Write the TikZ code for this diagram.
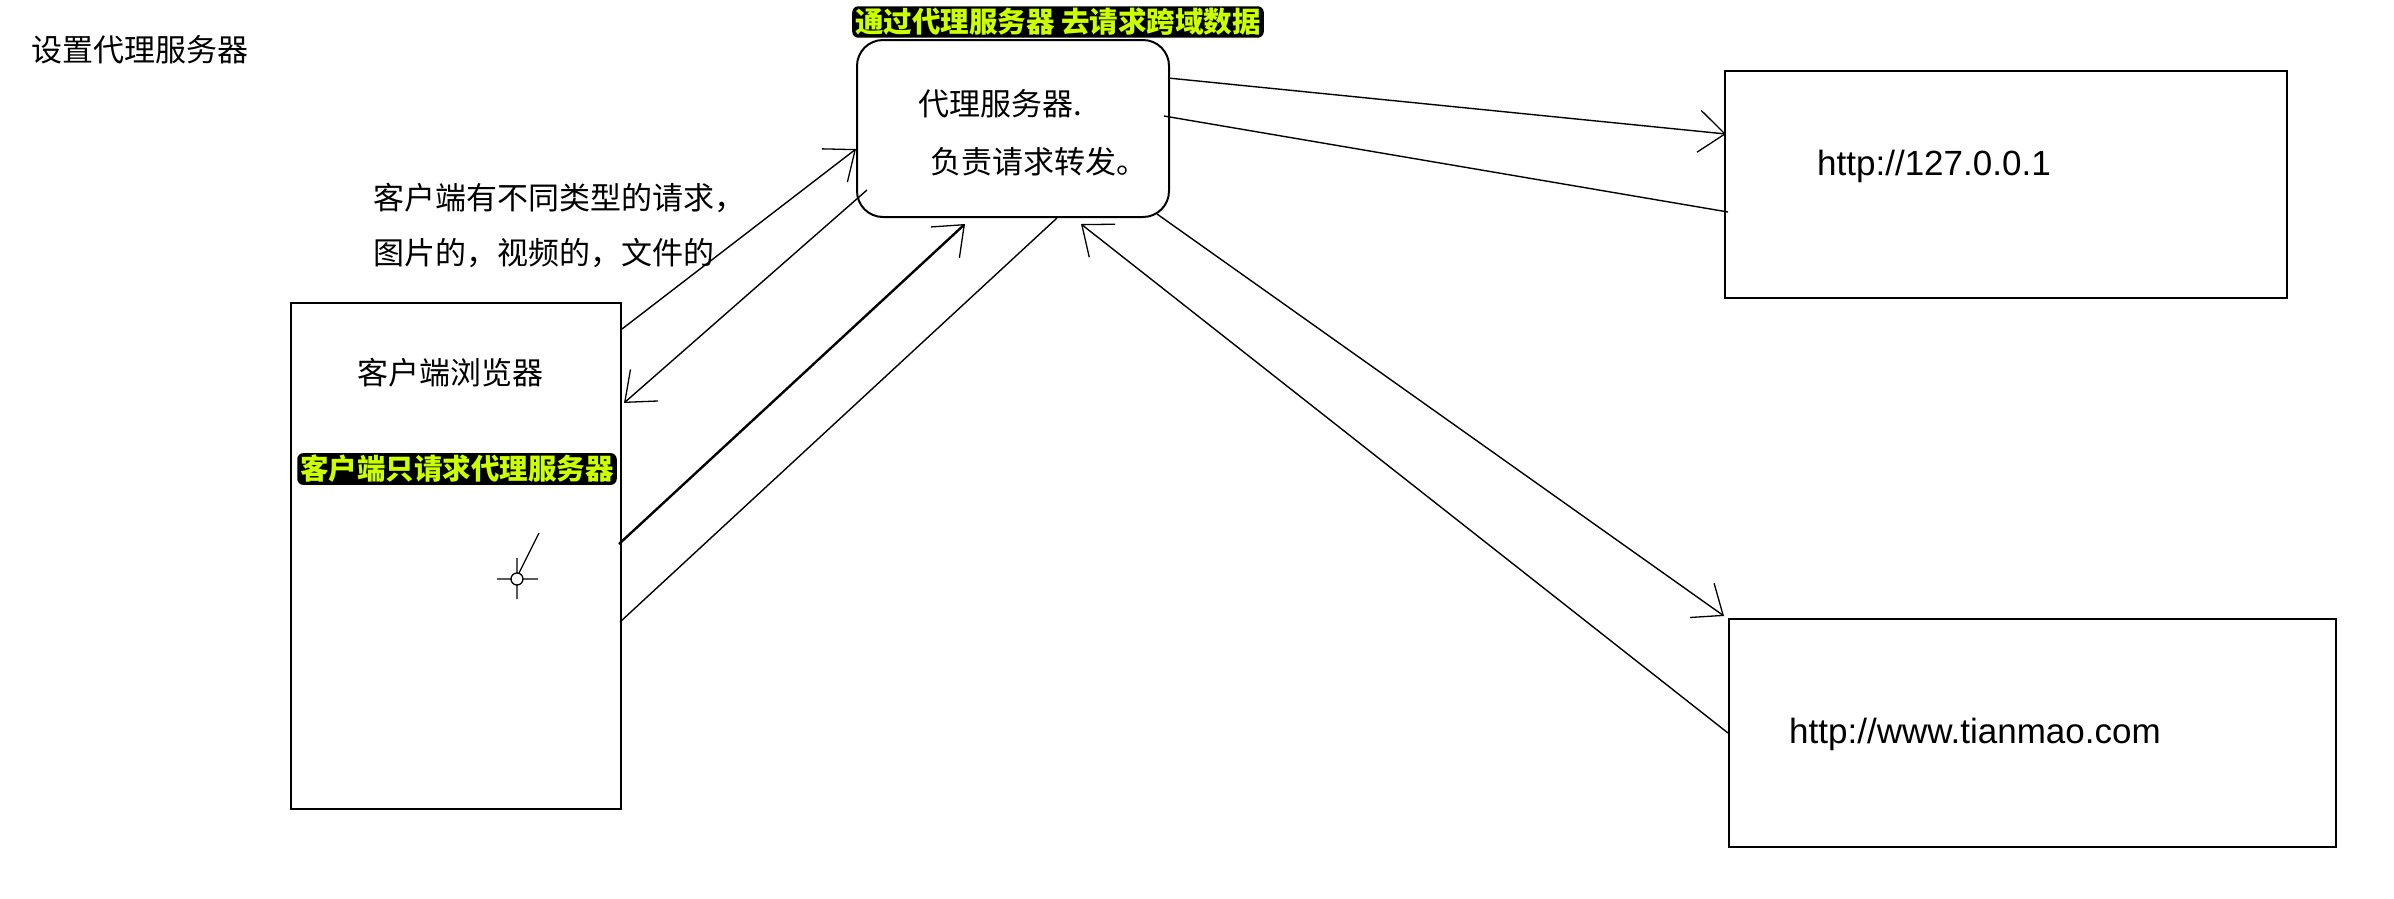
\documentclass[tikz,border=0pt]{standalone}
\usepackage{fontspec}
\setmainfont{Noto Sans CJK SC}
\newfontfamily\urlfont{Liberation Sans}
\usetikzlibrary{arrows.meta}
\definecolor{hilite}{RGB}{204,255,0}

\tikzset{
  box/.style={draw, line width=2pt, inner sep=0pt},
  note/.style={font=\fontsize{31}{36}\selectfont, inner sep=0pt},
  url/.style={font=\urlfont\fontsize{35}{40}\selectfont, inner sep=0pt, anchor=west},
  glow/.style={fill=black, text=hilite, rounded corners=6pt,
    font=\fontsize{28.5}{32}\selectfont\bfseries, inner xsep=3pt, inner ysep=2pt},
  req/.style={draw, line width=1.4pt,
    -{Straight Barb[length=26pt,width=42pt,line width=1.3pt]}},
  wire/.style={draw, line width=1.4pt},
}

\begin{document}
\begin{tikzpicture}[x=1pt, y=-1pt, auto]

  \path [fill=white, use as bounding box] (0,0) rectangle (2394,898);

  \node [note] (title) at (140,50) {设置代理服务器};

  % boxes
  \node [box, minimum width=330pt, minimum height=506pt] (client) at (456,556) {};
  \node [box, rounded corners=26pt, minimum width=312pt, minimum height=177pt] (proxy) at (1013,128.5) {};
  \node [box, minimum width=562pt, minimum height=227pt] (local) at (2006,184.5) {};
  \node [box, minimum width=607pt, minimum height=228pt] (tmall) at (2032.5,733) {};

  \node [glow] (proxyTip) at (1058,22) {通过代理服务器 去请求跨域数据};
  \node [note, anchor=west] (proxyName) at (918,104) {代理服务器.};
  \node [note, anchor=west] (proxyJob) at (930,162) {负责请求转发。};

  \node [note, anchor=west] (reqTypes) at (373,198) {客户端有不同类型的请求，};
  \node [note, anchor=west] (reqKinds) at (373,253) {图片的，视频的，文件的};
  \node [note] (browser) at (450,373) {客户端浏览器};
  \node [glow] (clientTip) at (457,469) {客户端只请求代理服务器};

  \node [url] (localUrl) at (1817,166) {http://127.0.0.1};
  \node [url] (tmallUrl) at (1789,734) {http://www.tianmao.com};

  \path
    ([yshift=-27pt]client.north east) edge [req] ([yshift=69pt]proxy.south west)
    ([xshift=11pt,yshift=28pt]proxy.south west) edge [req] ([xshift=2pt,yshift=-101pt]client.north east)
    ([xshift=-3pt,yshift=-242pt]client.north east) edge [req, line width=2.4pt] ([xshift=109pt,yshift=-6pt]proxy.south west)
    ([xshift=-2pt,yshift=-320pt]client.north east) edge [wire] ([xshift=201pt]proxy.south west)
    ([xshift=-2pt,yshift=-39pt]proxy.north east) edge [req] ([xshift=2pt,yshift=-64pt]local.north west)
    ([xshift=-6pt,yshift=-77pt]proxy.north east) edge [wire] ([xshift=4pt,yshift=-142pt]local.north west)
    ([xshift=-13pt,yshift=4pt]proxy.south east) edge [req] ([xshift=-4pt,yshift=2pt]tmall.north west)
    ([yshift=-115pt]tmall.north west) edge [req] ([xshift=225pt,yshift=-6pt]proxy.south west)
  ;

  % mouse pointer
  \draw [line width=1.3pt] (517,579) circle [radius=6pt];
  \draw [line width=1.3pt] (497,579) -- (511,579) (523,579) -- (538,579)
    (517,558) -- (517,573) (517,585) -- (517,599) (519,573) -- (539,533);

\end{tikzpicture}
\end{document}
